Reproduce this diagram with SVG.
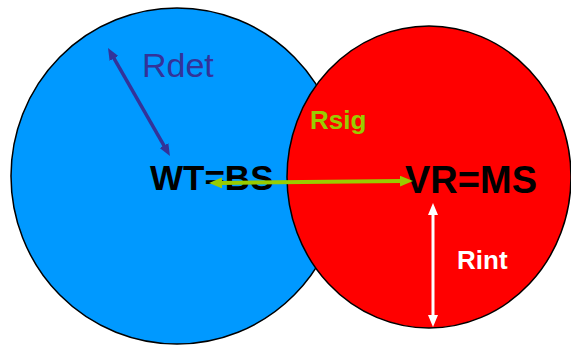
<svg xmlns="http://www.w3.org/2000/svg" width="571" height="345" viewBox="0 0 571 345">
<style>
.circ{stroke:#000;stroke-width:1.5}
.lbl{font-family:"Liberation Sans",Arial,sans-serif}
.b{font-weight:bold}
</style>
<defs>
<marker id="hPurple" markerUnits="userSpaceOnUse" viewBox="0 0 12 10" refX="2" refY="5" markerWidth="12" markerHeight="10" orient="auto-start-reverse"><path d="M0,0 L12,5 L0,10 z" fill="#333399"/></marker>
<marker id="hGreen" markerUnits="userSpaceOnUse" viewBox="0 0 13 11" refX="2" refY="5.5" markerWidth="13" markerHeight="11" orient="auto-start-reverse"><path d="M0,0 L13,5.5 L0,11 z" fill="#99CC00"/></marker>
<marker id="hWhite" markerUnits="userSpaceOnUse" viewBox="0 0 12 10" refX="2" refY="5" markerWidth="12" markerHeight="10" orient="auto-start-reverse"><path d="M0,0 L12,5 L0,10 z" fill="#FFFFFF"/></marker>
</defs>
<g id="WT">
<ellipse class="circ" cx="177" cy="176" rx="166" ry="168" fill="#0099FF"/>
<text class="lbl" x="142" y="77" font-size="34" fill="#333399">Rdet</text>
<text class="lbl b" x="150" y="190" font-size="35" fill="#000">WT=BS</text>
</g>
<g id="VR">
<ellipse class="circ" cx="429" cy="177" rx="142" ry="151" fill="#FF0000"/>
<text class="lbl b" x="310" y="129" font-size="26" fill="#99CC00">Rsig</text>
<text class="lbl b" x="405" y="193" font-size="38" fill="#000">VR=MS</text>
<text class="lbl b" x="457" y="269" font-size="26" fill="#FFFFFF">Rint</text>
</g>
<g id="connectors" fill="none">
<line x1="113" y1="56.7" x2="165" y2="147.3" stroke="#333399" stroke-width="3.5" marker-start="url(#hPurple)" marker-end="url(#hPurple)"/>
<line x1="220" y1="182.9" x2="402" y2="181.1" stroke="#99CC00" stroke-width="4" marker-start="url(#hGreen)" marker-end="url(#hGreen)"/>
<line x1="433" y1="213" x2="433" y2="317" stroke="#FFFFFF" stroke-width="3" marker-start="url(#hWhite)" marker-end="url(#hWhite)"/>
</g>
</svg>
